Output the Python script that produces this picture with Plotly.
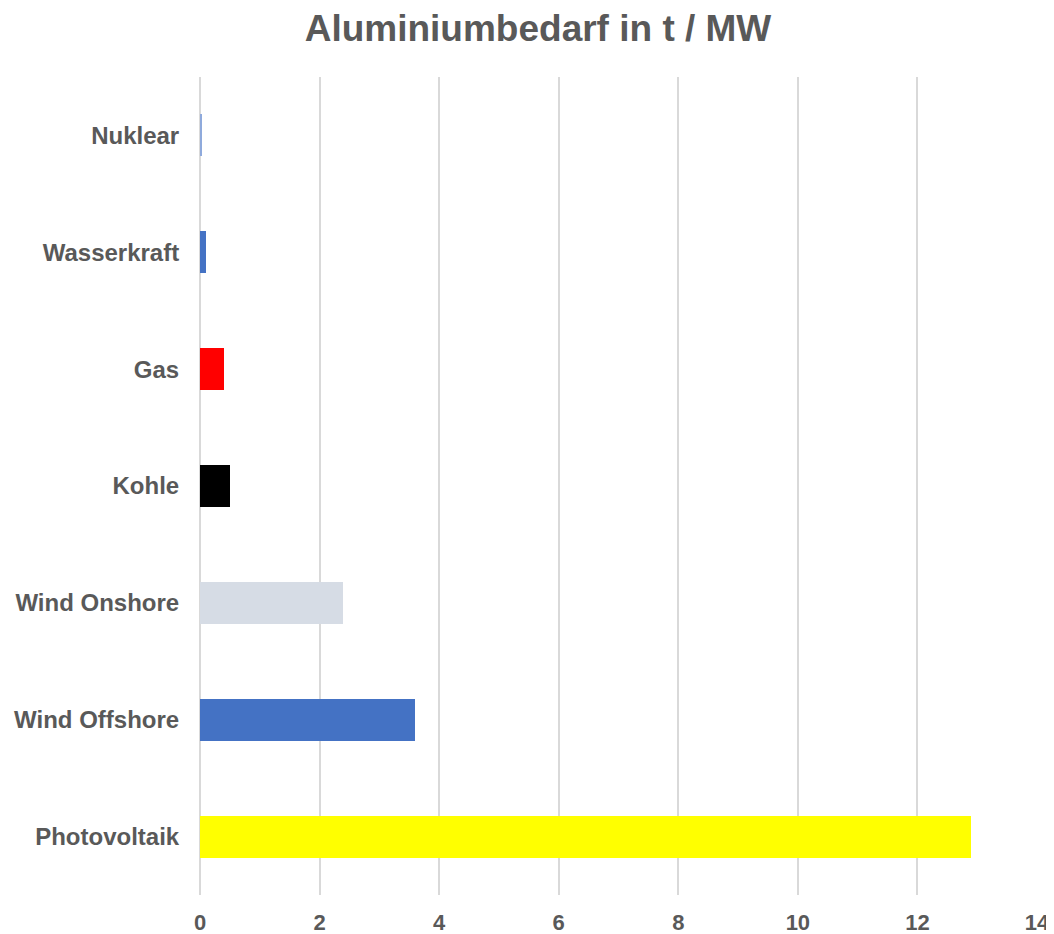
import plotly.graph_objects as go

categories = ["Photovoltaik", "Wind Offshore", "Wind Onshore", "Kohle", "Gas", "Wasserkraft", "Nuklear"]
values = [12.9, 3.6, 2.4, 0.5, 0.4, 0.1, 0.03]
colors = ["#FFFF00", "#4472C4", "#D6DCE5", "#000000", "#FF0000", "#4472C4", "#8FAADC"]
x_ticks = [0, 2, 4, 6, 8, 10, 12, 14]

fig = go.Figure(go.Bar(
    x=values, y=categories, orientation="h",
    marker=dict(color=colors, line=dict(width=0)),
    width=0.36,
))

font_family = "Liberation Sans, Arial, sans-serif"
# page body has an 8px default margin; compensate so the chart lands at the reference positions
fig.update_layout(
    width=1046, height=926,
    paper_bgcolor="white", plot_bgcolor="white",
    margin=dict(l=192, r=17, t=69, b=39),
    title=dict(text="<b>Aluminiumbedarf in t / MW</b>", x=530 / 1046, xanchor="center",
               y=1 - 20.5 / 926, yanchor="middle",
               font=dict(family=font_family, size=37, color="#595959")),
    showlegend=False,
    bargap=0,
)
fig.update_xaxes(
    range=[0, 14], tickvals=x_ticks, ticktext=[f"<b>{v}</b>" for v in x_ticks],
    showgrid=True, gridcolor="#D9D9D9", gridwidth=2,
    zeroline=True, zerolinecolor="#D9D9D9", zerolinewidth=2,
    showline=False, ticks="outside", tickcolor="white", ticklen=8,
    tickfont=dict(family=font_family, size=22, color="#595959"),
    ticklabeloverflow="allow",
    automargin=False,
)
fig.update_yaxes(
    categoryorder="array", categoryarray=categories,
    tickvals=categories, ticktext=[f"<b>{c}</b>" for c in categories],
    showgrid=False, showline=False, ticks="outside", tickcolor="white", ticklen=15,
    tickfont=dict(family=font_family, size=24, color="#595959"),
    automargin=False,
)
fig.write_html("out.html")
